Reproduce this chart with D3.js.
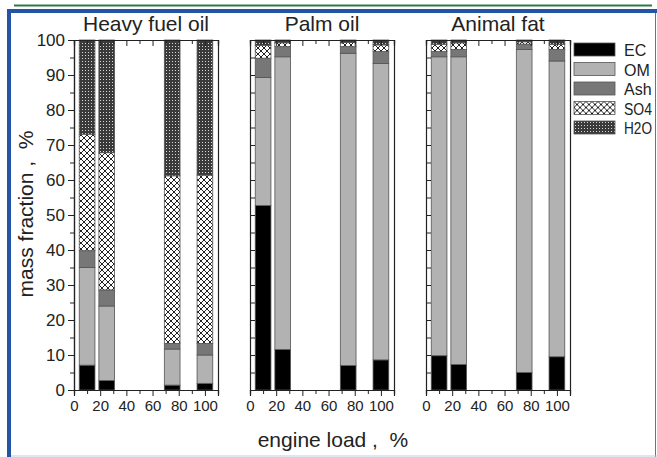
<!DOCTYPE html>
<html>
<head>
<meta charset="utf-8">
<script src="https://cdn.jsdelivr.net/npm/d3@7"></script>
<style>
  body { margin: 0; background: #fff; }
  svg { display: block; font-family: "Liberation Sans", Arial, sans-serif; }
</style>
</head>
<body>
<div id="chart"></div>
<script>
// engine loads (%) and fuels
const loads = [10, 25, 75, 100];
const fuels = ['Heavy fuel oil', 'Palm oil', 'Animal fat'];
const components = ['EC', 'OM', 'Ash', 'SO4', 'H2O'];

// mass fraction (%) per fuel, one value per load
const EC  = [[7.1, 2.7, 1.4, 1.9], [52.7, 11.6, 7.0, 8.6], [9.8, 7.3, 5.0, 9.5]];
const OM  = [[27.9, 21.3, 10.3, 8.1], [36.6, 83.6, 89.2, 84.7], [85.4, 87.9, 92.3, 84.5]];
const Ash = [[4.8, 4.6, 1.6, 3.3], [5.5, 2.9, 1.9, 3.4], [1.5, 2.1, 1.5, 3.3]];
const SO4 = [[33.3, 39.2, 47.9, 48.1], [3.7, 1.1, 1.2, 1.9], [2.1, 1.9, 0.7, 1.5]];
const H2O = [[26.9, 32.2, 38.8, 38.6], [1.5, 0.8, 0.7, 1.4], [1.2, 0.8, 0.5, 1.2]];

const xTicks = [0, 20, 40, 60, 80, 100];
const yTicks = [0, 10, 20, 30, 40, 50, 60, 70, 80, 90, 100];

const W = 657, H = 457;
const svg = d3.select('#chart').append('svg').attr('width', W).attr('height', H);

// patterns for SO4 (cross hatch) and H2O (dense dots)
const defs = svg.append('defs');
const hatch = defs.append('pattern').attr('id', 'pSO4')
  .attr('patternUnits', 'userSpaceOnUse').attr('width', 6).attr('height', 6);
hatch.append('rect').attr('width', 6).attr('height', 6).attr('fill', '#fff');
hatch.append('path').attr('d', 'M0,0L6,6M6,0L0,6').attr('stroke', '#222').attr('stroke-width', 1);
const dots = defs.append('pattern').attr('id', 'pH2O')
  .attr('patternUnits', 'userSpaceOnUse').attr('width', 3).attr('height', 3);
dots.append('rect').attr('width', 3).attr('height', 3).attr('fill', '#3a3a3a');
dots.append('rect').attr('x', 1).attr('y', 1).attr('width', 1).attr('height', 1).attr('fill', '#d8d8d8');

const fills = { EC: '#000', OM: '#b2b2b2', Ash: '#777', SO4: 'url(#pSO4)', H2O: 'url(#pH2O)' };

// page frame
svg.append('line').attr('x1', 14).attr('x2', 652).attr('y1', 5.5).attr('y2', 5.5)
  .attr('stroke', '#2b7a4b').attr('stroke-width', 2);
svg.append('rect').attr('x', 7).attr('y', 9).attr('width', W - 7).attr('height', 4).attr('fill', '#2455a4');
svg.append('rect').attr('x', 7).attr('y', 9).attr('width', 4).attr('height', H - 9).attr('fill', '#2455a4');
svg.append('line').attr('x1', 655.5).attr('x2', 655.5).attr('y1', 13).attr('y2', H)
  .attr('stroke', '#4a78c0').attr('stroke-width', 1);
svg.append('line').attr('x1', 11).attr('x2', W).attr('y1', 456).attr('y2', 456)
  .attr('stroke', '#b9cde8').attr('stroke-width', 1);

const plotTop = 40, plotBottom = 390, pw = 144;
const lefts = [74, 250, 426];
const y = d3.scaleLinear().domain([0, 100]).range([plotBottom, plotTop]);
const barW = 12;

const stack = d3.stack().keys(components);

fuels.forEach((fuel, fi) => {
  const x = d3.scaleLinear().domain([0, 110]).range([lefts[fi], lefts[fi] + pw]);
  const rows = loads.map((load, li) => ({
    load,
    EC: EC[fi][li], OM: OM[fi][li], Ash: Ash[fi][li], SO4: SO4[fi][li], H2O: H2O[fi][li],
  }));
  const series = stack(rows);
  const g = svg.append('g');

  g.selectAll('g.layer').data(series).join('g').attr('class', 'layer')
    .attr('fill', (s) => fills[s.key])
    .selectAll('rect').data((s) => s).join('rect')
    .attr('x', (d) => x(d.data.load - barW / 2))
    .attr('width', (d) => x(barW) - x(0))
    .attr('y', (d) => y(d[1]))
    .attr('height', (d) => y(d[0]) - y(d[1]))
    .attr('stroke', '#555').attr('stroke-width', 0.8);

  // frame axes
  const xb = g.append('g').attr('transform', `translate(0,${plotBottom})`)
    .call(d3.axisBottom(x).tickValues(xTicks).tickSize(6).tickPadding(4));
  xb.selectAll('text').attr('font-size', 15).attr('fill', '#222').attr('font-family', 'Liberation Sans, Arial');
  g.append('g').attr('transform', `translate(0,${plotBottom})`)
    .call(d3.axisBottom(x).tickValues([10, 30, 50, 70, 90, 110]).tickSize(4).tickFormat(''));
  g.append('g').attr('transform', `translate(0,${plotTop})`)
    .call(d3.axisBottom(x).tickValues([20, 40, 60, 80, 100]).tickSize(6).tickFormat(''));
  g.append('g').attr('transform', `translate(0,${plotTop})`)
    .call(d3.axisBottom(x).tickValues([10, 30, 50, 70, 90]).tickSize(4).tickFormat(''));

  if (fi === 0) {
    const ya = g.append('g').attr('transform', `translate(${lefts[fi]},0)`)
      .call(d3.axisLeft(y).tickValues(yTicks).tickSize(6).tickPadding(3));
    ya.selectAll('text').attr('font-size', 17).attr('fill', '#222').attr('font-family', 'Liberation Sans, Arial');
    g.append('g').attr('transform', `translate(${lefts[fi]},0)`)
      .call(d3.axisLeft(y).tickValues(d3.range(5, 100, 10)).tickSize(4).tickFormat(''));
  } else {
    g.append('g').attr('transform', `translate(${lefts[fi]},0)`)
      .call(d3.axisRight(y).tickValues(d3.range(5, 100, 5)).tickSize(5).tickFormat(''));
  }
  g.append('g').attr('transform', `translate(${lefts[fi] + pw},0)`)
    .call(d3.axisLeft(y).tickValues(d3.range(5, 100, 5)).tickSize(0).tickFormat(''));
  g.selectAll('.domain').attr('stroke', '#222').attr('stroke-width', 1.2);
  g.selectAll('.tick line').attr('stroke', '#222');

  g.append('text').attr('x', lefts[fi] + pw / 2).attr('y', 31)
    .attr('text-anchor', 'middle').attr('font-size', 21).attr('fill', '#222').text(fuel);
});

// axis titles
svg.append('text').attr('x', 333).attr('y', 447).attr('text-anchor', 'middle')
  .attr('font-size', 21).attr('fill', '#222').style('white-space', 'pre').text('engine load ,  %');
svg.append('text').attr('transform', 'translate(33,214) rotate(-90)').attr('text-anchor', 'middle')
  .attr('font-size', 21).attr('fill', '#222').style('white-space', 'pre').text('mass fraction ,  %');

// legend
const legend = svg.append('g').attr('transform', 'translate(574,43)');
const item = legend.selectAll('g').data(components).join('g')
  .attr('transform', (d, i) => `translate(0,${i * 19.5})`);
item.append('rect').attr('width', 41).attr('height', 13)
  .attr('fill', (d) => fills[d]).attr('stroke', '#555').attr('stroke-width', 0.8);
item.append('text').attr('x', 50).attr('y', 13).attr('font-size', 16).attr('fill', '#222').text((d) => d)
  .each(function () {
    // squeeze labels that would run into the page border
    if (this.getComputedTextLength() > 28) {
      d3.select(this).attr('textLength', 28).attr('lengthAdjust', 'spacingAndGlyphs');
    }
  });
</script>
</body>
</html>
